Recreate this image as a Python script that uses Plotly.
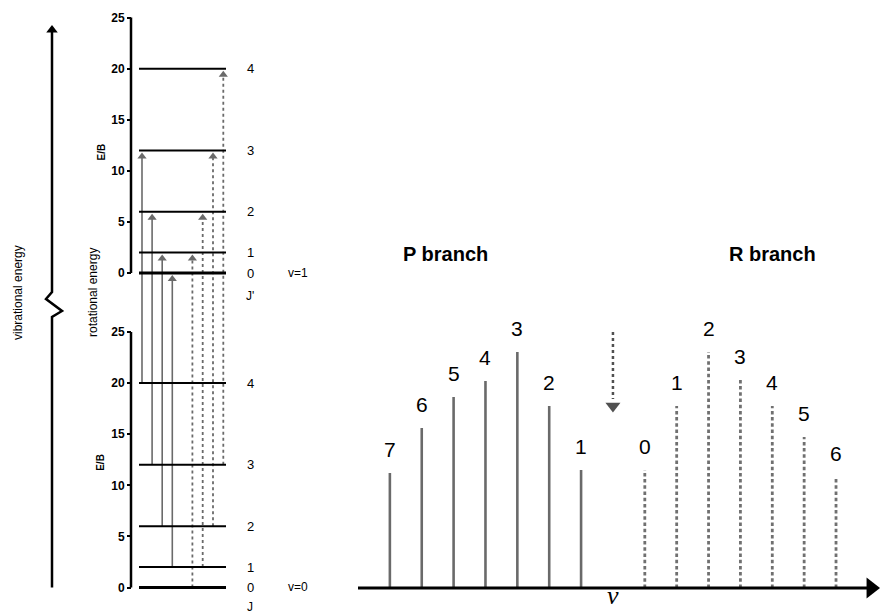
import plotly.graph_objects as go

# ---------------- level diagram data ----------------
J_LEVELS = [0, 1, 2, 3, 4]
E_OVER_B = [0, 2, 6, 12, 20]            # rotational term values E/B = J(J+1)
E_TICKS = [0, 5, 10, 15, 20, 25]

# transitions shown in the level diagram, by lower-state J
P_DIAG_J = [4, 3, 2, 1]                 # J'' -> J'' - 1
R_DIAG_J = [0, 1, 2, 3]                 # J'' -> J'' + 1

# ---------------- spectrum data ----------------
P_J = [7, 6, 5, 4, 3, 2, 1]
P_INTENSITY = [11.5, 16.0, 19.1, 20.7, 23.6, 18.2, 11.8]
R_J = [0, 1, 2, 3, 4, 5, 6]
R_INTENSITY = [11.8, 18.2, 23.6, 20.8, 18.2, 15.1, 11.1]

# ---------------- layout constants ----------------
W, H = 880, 615
FONT = "Liberation Sans, Arial, Helvetica, sans-serif"
GREY = "#6a6a6a"

PX = 10.22            # pixels per E/B unit in the level diagram
LOW0_PX = 587.5       # row of the v=0, J=0 level
OFFSET = 30.77        # E/B units between the v=0 and v=1 stacks
E_TOP = 25
Y_MIN, Y_MAX = -2.6, 56.5

LEFT_W = 320          # width of the level-diagram panel (x units = px)
AXIS_X = 131
LEVEL_X0, LEVEL_X1 = 139, 226
P_X = [142 + 10.1 * i for i in range(len(P_DIAG_J))]
R_X = [192.4 + 10.3 * i for i in range(len(R_DIAG_J))]
TIP_DROP = 6.0 / PX   # arrowhead centre sits just under the level it reaches

SPEC_X0 = 358         # left end of the frequency axis (px)
SPEC_RANGE = [-8.0, 8.38]
I_RANGE = [-2.5, 36]
SPEC_BASE_PX = 588
I_PX = 10.0

energy = dict(zip(J_LEVELS, E_OVER_B))


def u(px_row):
    """Row in pixels -> level-diagram y units."""
    return (LOW0_PX - px_row) / PX


def segs(pairs_x, pairs_y):
    xs, ys = [], []
    for x, y in zip(pairs_x, pairs_y):
        xs += list(x) + [None]
        ys += list(y) + [None]
    return xs, ys


fig = go.Figure()
L = dict(xaxis="x", yaxis="y", showlegend=False, hoverinfo="skip")
S = dict(xaxis="x2", yaxis="y2", showlegend=False, hoverinfo="skip")

# --- axis segments for the two stacks ---
for base in (0, OFFSET):
    fig.add_trace(go.Scatter(x=[AXIS_X, AXIS_X], y=[base, base + E_TOP], mode="lines",
                             line=dict(color="black", width=2.5), **L))

# --- P-branch transitions (solid) ---
for x, j in zip(P_X, P_DIAG_J):
    y0 = energy[j]
    y1 = OFFSET + energy[j - 1] - TIP_DROP
    fig.add_trace(go.Scatter(x=[x, x], y=[y0, y1], mode="lines",
                             line=dict(color=GREY, width=1.6), **L))
    fig.add_trace(go.Scatter(x=[x], y=[y1], mode="markers", cliponaxis=False,
                             marker=dict(symbol="triangle-up", size=8, color=GREY), **L))

# --- R-branch transitions (dashed) ---
for x, j in zip(R_X, R_DIAG_J):
    y0 = energy[j]
    y1 = OFFSET + energy[j + 1] - TIP_DROP
    fig.add_trace(go.Scatter(x=[x, x], y=[y0, y1], mode="lines",
                             line=dict(color=GREY, width=1.8, dash="3px,3px"), **L))
    fig.add_trace(go.Scatter(x=[x], y=[y1], mode="markers", cliponaxis=False,
                             marker=dict(symbol="triangle-up", size=8, color=GREY), **L))

# --- rotational levels ---
for base in (0, OFFSET):
    xs, ys = segs([(LEVEL_X0, LEVEL_X1)] * (len(J_LEVELS) - 1),
                  [(base + e, base + e) for e in E_OVER_B[1:]])
    fig.add_trace(go.Scatter(x=xs, y=ys, mode="lines", line=dict(color="black", width=2), **L))
    fig.add_trace(go.Scatter(x=[LEVEL_X0, LEVEL_X1], y=[base, base], mode="lines",
                             line=dict(color="black", width=3), **L))

# --- vibrational energy arrow with break mark ---
BIG_X = 52
fig.add_trace(go.Scatter(
    x=[BIG_X, BIG_X, BIG_X + 10, BIG_X - 6, BIG_X, BIG_X],
    y=[0, u(317), u(311), u(299), u(292), u(30)],
    mode="lines", line=dict(color="black", width=2.5), **L))
fig.add_trace(go.Scatter(x=[BIG_X], y=[u(30)], mode="markers", cliponaxis=False,
                         marker=dict(symbol="triangle-up", size=10, color="black"), **L))

# --- spectrum lines ---
p_pos = [-j for j in P_J]
r_pos = [j + 1 for j in R_J]
for x, v in zip(p_pos, P_INTENSITY):
    fig.add_trace(go.Scatter(x=[x, x], y=[0, v], mode="lines",
                             line=dict(color=GREY, width=2.6), **S))
for x, v in zip(r_pos, R_INTENSITY):
    fig.add_trace(go.Scatter(x=[x, x], y=[0, v], mode="lines",
                             line=dict(color="#707070", width=2.8, dash="3.5px,2.7px"), **S))

# band origin marker (dotted arrow)
fig.add_trace(go.Scatter(x=[0, 0], y=[25.6, 18.9], mode="lines",
                         line=dict(color="#505050", width=2.5, dash="dot"), **S))
fig.add_trace(go.Scatter(x=[0], y=[18.2], mode="markers", cliponaxis=False,
                         marker=dict(symbol="triangle-down", size=13, color="#505050"), **S))

# frequency axis with arrow
fig.add_trace(go.Scatter(x=[SPEC_RANGE[0], 8.1], y=[0, 0], mode="lines",
                         line=dict(color="black", width=3.2), **S))
fig.add_trace(go.Scatter(x=[8.1], y=[0], mode="markers", cliponaxis=False,
                         marker=dict(symbol="triangle-right", size=18, color="black"), **S))

# ---------------- annotations ----------------
ann = []


def text(x, y, s, size=13, axes=("x", "y"), **kw):
    d = dict(x=x, y=y, xref=axes[0], yref=axes[1], text=s, showarrow=False,
             font=dict(family=FONT, size=size, color="black"))
    d.update(kw)
    ann.append(d)


for base in (0, OFFSET):
    for j, e in zip(J_LEVELS, E_OVER_B):
        text(250, base + e, str(j), 13)
text(298, OFFSET, "v=1", 12)
text(298, 0, "v=0", 12)
text(250, OFFSET - 2.2, "J'", 12)
text(250, -1.9, "J", 12)
text(101, 12.2, "<b>E/B</b>", 10, textangle=-90)
text(101, OFFSET + 11.8, "<b>E/B</b>", 10, textangle=-90)
text(93, u(293), "rotational energy", 12, textangle=-90)
text(18, u(293), "vibrational energy", 12, textangle=-90)

for x, v, j in zip(p_pos, P_INTENSITY, P_J):
    text(x, v, str(j), 21, axes=("x2", "y2"), yshift=24)
for x, v, j in zip(r_pos, R_INTENSITY, R_J):
    text(x, v, str(j), 21, axes=("x2", "y2"), yshift=24)

text(-5.26, 33.4, "<b>P branch</b>", 20, axes=("x2", "y2"))
text(5.0, 33.4, "<b>R branch</b>", 20, axes=("x2", "y2"))
ann.append(dict(x=0, y=-0.75, xref="x2", yref="y2", text="<i>ν</i>", showarrow=False,
                font=dict(family="Liberation Serif, DejaVu Serif, serif", size=26, color="black")))

# ---------------- axes ----------------
left_dom = [1 - (LOW0_PX - Y_MIN * PX) / H, 1 - (LOW0_PX - Y_MAX * PX) / H]
spec_dom = [1 - (SPEC_BASE_PX - I_RANGE[0] * I_PX) / H, 1 - (SPEC_BASE_PX - I_RANGE[1] * I_PX) / H]

tickvals = E_TICKS + [OFFSET + t for t in E_TICKS]
ticktext = [f"<b>{t}</b>" for t in E_TICKS] * 2

fig.update_layout(
    width=W, height=H,
    margin=dict(l=0, r=0, t=0, b=0),
    paper_bgcolor="white", plot_bgcolor="white",
    annotations=ann,
    xaxis=dict(domain=[0, LEFT_W / W], range=[0, LEFT_W], visible=False, fixedrange=True),
    yaxis=dict(domain=left_dom, range=[Y_MIN, Y_MAX], anchor="free", position=AXIS_X / W,
               showline=False, showgrid=False, zeroline=False,
               tickvals=tickvals, ticktext=ticktext, ticks="outside", ticklen=4,
               tickwidth=2, tickcolor="black",
               tickfont=dict(family=FONT, size=12, color="black")),
    xaxis2=dict(domain=[SPEC_X0 / W, 1], range=SPEC_RANGE, anchor="y2", visible=False),
    yaxis2=dict(domain=spec_dom, range=I_RANGE, anchor="x2", visible=False),
)

fig.write_html("out.html")
